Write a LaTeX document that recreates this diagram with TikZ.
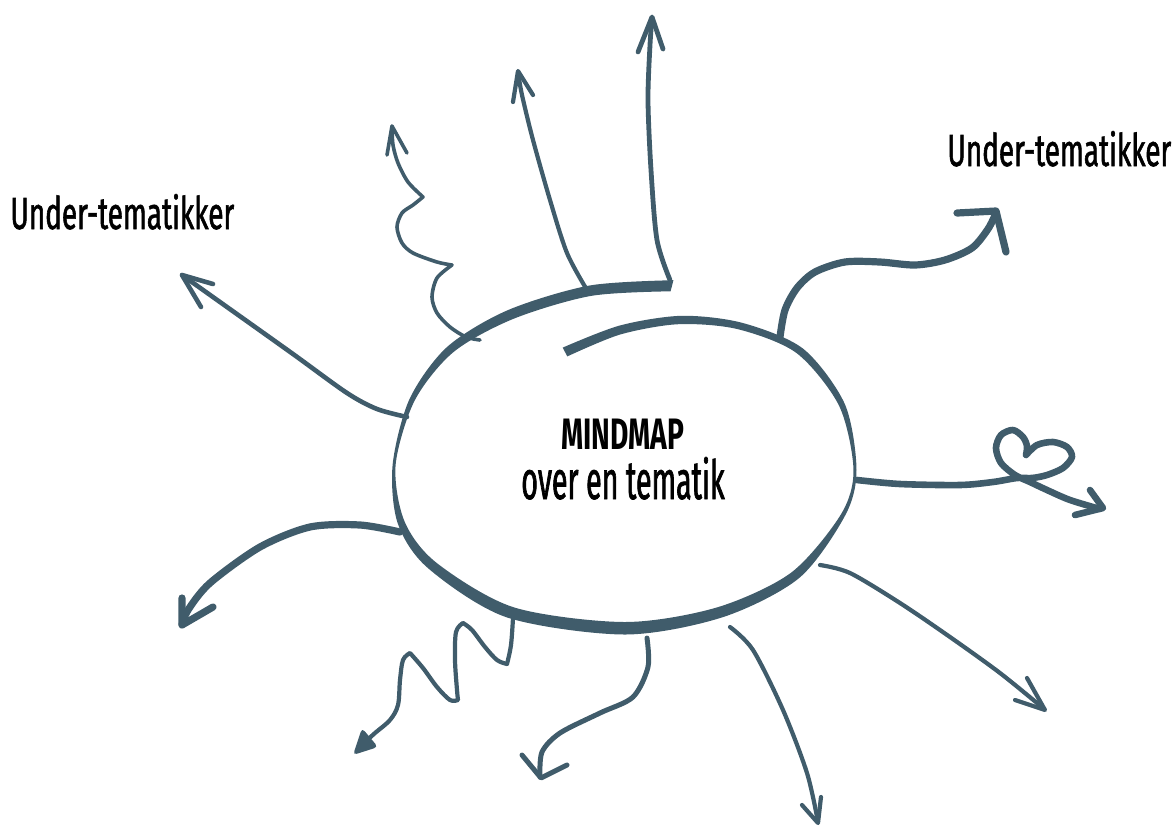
\documentclass[tikz,border=0pt]{standalone}
\usepackage{fontspec}
\newfontfamily\cond{Fira Sans}[FakeStretch=0.62, FakeBold=1.2]
\newfontfamily\condb{Fira Sans}[FakeStretch=0.53, FakeBold=1.2]
\newfontfamily\condbold{Fira Sans Bold}[FakeStretch=0.64]
\definecolor{ink}{HTML}{405C6B}
\begin{document}
\begin{tikzpicture}[x=0.5pt,y=-0.5pt,
  ln/.style={draw=ink, line cap=round, line join=round},
  thinln/.style={ln, line width=2.1pt},
  thickln/.style={ln, line width=3.6pt},
  lbl/.style={font=\cond\fontsize{22.5pt}{24pt}\selectfont, text=black, inner sep=0pt},
]
\useasboundingbox (0,0) rectangle (1175,827);

% central spiral ring (variable width stroke)
\fill[ink] plot[smooth] coordinates {(673.4,280.2) (589.0,285.6) (507.0,310.5) (446.7,347.3) (409.4,399.3) (392.6,465) (397.6,522.9) (427.6,567.8) (506.3,617.2) (625,634.5) (723.0,617.1) (799.3,577.9) (845.2,515.4) (856.5,470) (844.9,404.2) (803.4,348.9) (742.5,322.9) (681.6,315.8) (619.8,325.5) (562.7,347.6)}
  -- plot[smooth] coordinates {(567.3,356.4) (620.2,334.5) (678.4,324.2) (737.5,329.1) (796.6,353.1) (839.1,405.8) (853.5,470) (840.8,514.6) (791.2,572.6) (717.0,607.4) (625,622) (513.7,607.3) (436.4,562.7) (404.4,521.1) (395.6,465) (414.6,400.7) (453.3,352.2) (513.0,319.0) (591.0,295.9) (670.6,291.3)} -- cycle;

% A1 upper left
\draw[thinln, line width=2.3pt] plot[smooth] coordinates {(407,417) (377,409) (347,393) (293,354) (227,307) (182,275)};
\draw[thinln, line width=2.3pt] (213,284) -- (182,275) -- (201,307);

% A2 wavy upper arrow
\draw[thinln, line width=1.8pt] plot[smooth] coordinates {(480,340) (466,337) (450,327) (437,313) (432,297) (437,278) (452,265)}
  -- plot[smooth] coordinates {(452,265) (437,262) (413,253) (402,243) (397,227) (402,213) (413,205) (423,197)}
  -- plot[smooth] coordinates {(423,197) (408,182) (398,163) (393,145) (392,127)};
\draw[thinln, line width=1.8pt] (387,155) -- (392,126) -- (407,153);

% A3 upper middle
\draw[thinln] plot[smooth] coordinates {(587,290) (567,253) (550,200) (533,140) (522,95) (518,72)};
\draw[thinln] (513,102) -- (518,71) -- (533,95);

% A4 tall upper
\draw[thinln, line width=2.4pt] plot[smooth] coordinates {(670,280) (657,240) (651,170) (648,100) (650,45) (652,18)};
\draw[thinln, line width=2.4pt] (638,52) -- (652,17) -- (663,49);

% A5 upper right thick
\draw[thickln] plot[smooth] coordinates {(780,337) (785,310) (797,288) (815,272) (845,262) (880,262) (915,265) (945,260) (972,248) (988,229) (996,213)};
\draw[thickln] (957,213) -- (996,211) -- (1006,252);

% A6 heart arrow
\draw[thickln, line width=3.3pt] plot[smooth] coordinates {(857,480) (900,484) (960,485) (993,482) (1017,478) (1032,478) (1047,475) (1063,468) (1072,457) (1067,447) (1053,442) (1037,445) (1026,455)}
  -- plot[smooth] coordinates {(1026,455) (1027,446) (1023,437) (1013,430) (1001,435) (996,448) (1001,463) (1015,475) (1030,482) (1047,490) (1070,500) (1100,509)};
\draw[thickln, line width=3.3pt] (1090,490) -- (1103,508) -- (1075,515);

% A7 lower right
\draw[thinln] plot[smooth] coordinates {(820,565) (850,573) (900,603) (950,637) (1000,673) (1043,708)};
\draw[thinln] (1027,678) -- (1045,710) -- (1015,700);

% A8 bottom right
\draw[thinln] plot[smooth] coordinates {(730,627) (753,650) (783,710) (807,773) (818,822)};
\draw[thinln] (802,805) -- (818,823) -- (821,797);

% A9 bottom middle
\draw[thinln, line width=2.5pt] plot[smooth] coordinates {(647,638) (648,667) (633,697) (600,713) (560,733) (542,752) (540,777)};
\draw[thinln, line width=2.5pt] (522,755) -- (541,778) -- (567,765);

% A10 zigzag
\draw[thinln] plot[smooth, tension=0.55] coordinates {(513,618) (511,645) (507,664)}
  -- plot[smooth, tension=0.55] coordinates {(507,664) (497,660) (485,647) (472,630) (463,623)}
  -- plot[smooth, tension=0.55] coordinates {(463,623) (456,632) (455,660) (457,690) (458,700)}
  -- plot[smooth, tension=0.55] coordinates {(458,700) (450,700) (437,687) (423,668) (410,653)}
  -- plot[smooth, tension=0.55] coordinates {(410,653) (403,660) (400,680) (398,705) (390,720) (375,733) (364,743)};
\fill[ink, rounded corners=2pt] (353,755) -- (362,728) -- (378,747) -- cycle;

% A11 lower left thick
\draw[thickln] plot[smooth] coordinates {(400,532) (360,525) (310,527) (260,547) (210,583) (188,610) (182,625)};
\draw[thickln] (182,598) -- (182,625) -- (213,607);

% labels
\node[lbl, anchor=base west] (ltitle) at (10,229) {Under-tematikker};
\node[lbl, anchor=base west] (rtitle) at (947,166) {Under-tematikker};
\node[font=\condbold\fontsize{22pt}{24pt}\selectfont, text=black, inner sep=0pt, anchor=base] (mm) at (623,449) {MINDMAP};
\node[font=\condb\fontsize{27pt}{28pt}\selectfont, text=black, inner sep=0pt, anchor=base] (sub) at (623,499) {over en tematik};
\end{tikzpicture}
\end{document}
